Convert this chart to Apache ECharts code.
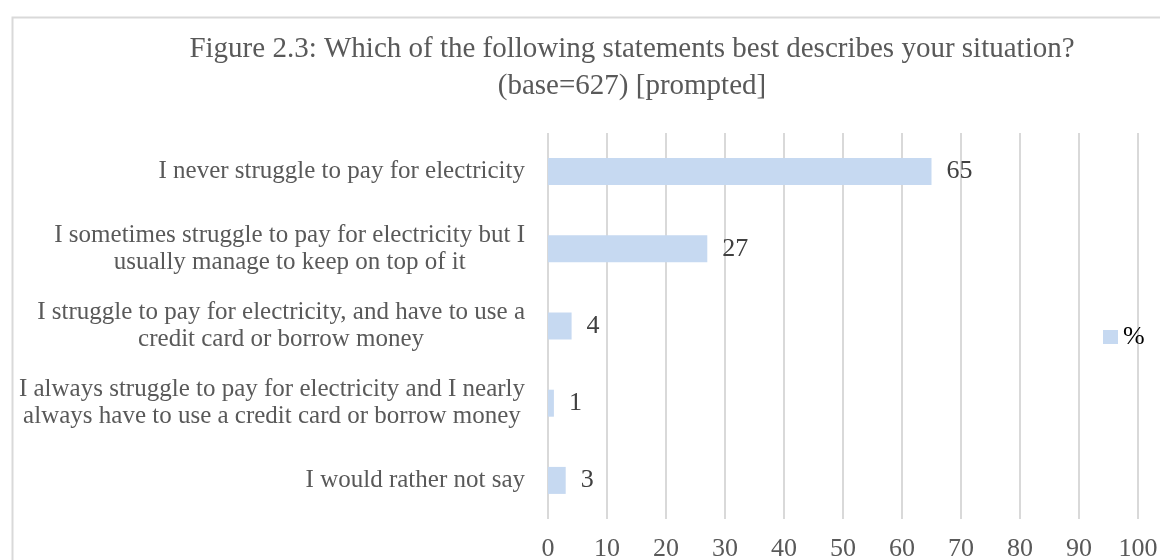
<!DOCTYPE html>
<html>
<head>
<meta charset="utf-8">
<script src="https://cdn.jsdelivr.net/npm/echarts@6/dist/echarts.min.js"></script>
<style>
  html, body { margin: 0; padding: 0; background: #ffffff; }
  #chart { width: 1160px; height: 560px; }
</style>
</head>
<body>
<div id="chart"></div>
<script>
// Survey answers (categories) and the share of respondents for each, in %
const categories = [
  'I never struggle to pay for electricity',
  'I sometimes struggle to pay for electricity but I\nusually manage to keep on top of it',
  'I struggle to pay for electricity, and have to use a\ncredit card or borrow money',
  'I always struggle to pay for electricity and I nearly\nalways have to use a credit card or borrow money',
  'I would rather not say'
];
const percentValues = [65, 27, 4, 1, 3];
const seriesName = '%';
const titleText = 'Figure 2.3: Which of the following statements best describes your situation?\n(base=627) [prompted]';

const FONT = '"Liberation Serif", "DejaVu Serif", serif';
const TEXT_GREY = '#595959';
const GRID_GREY = '#d9d9d9';
const BAR_BLUE = '#c6d9f1';

const chart = echarts.init(document.getElementById('chart'), null, { renderer: 'canvas' });

chart.setOption({
  animation: false,
  backgroundColor: '#ffffff',
  graphic: [{
    // chart-area frame
    type: 'rect',
    left: 10,
    top: 15,
    z: -10,
    shape: { width: 1200, height: 600 },
    style: { fill: 'none', stroke: GRID_GREY, lineWidth: 2 }
  }],
  title: {
    text: titleText,
    left: 627,
    top: 26,
    textAlign: 'center',
    textStyle: {
      fontFamily: FONT,
      fontSize: 29,
      fontWeight: 'normal',
      color: TEXT_GREY,
      lineHeight: 37
    }
  },
  legend: {
    data: [seriesName],
    left: 1103,
    top: 324,
    padding: 0,
    icon: 'rect',
    itemWidth: 15,
    itemHeight: 14,
    textStyle: { fontFamily: FONT, fontSize: 26, color: '#000000' }
  },
  grid: {
    left: 548, right: 22, top: 133, bottom: 41,
    containLabel: false,
    outerBoundsMode: 'none'
  },
  xAxis: {
    type: 'value',
    min: 0,
    max: 100,
    interval: 10,
    axisLine: { show: false },
    axisTick: { show: false },
    axisLabel: { fontFamily: FONT, fontSize: 26, color: TEXT_GREY, margin: 17 },
    splitLine: { show: true, lineStyle: { color: GRID_GREY, width: 2 } }
  },
  yAxis: {
    type: 'category',
    inverse: true,
    data: categories,
    axisLine: { show: false },
    axisTick: { show: false },
    axisLabel: {
      margin: 23,
      formatter: function (value) {
        return value.split('\n').map(function (line) { return '{c|' + line + '}'; }).join('\n');
      },
      rich: {
        c: { align: 'center', fontFamily: FONT, fontSize: 25, lineHeight: 27, color: TEXT_GREY }
      }
    }
  },
  series: [{
    name: seriesName,
    type: 'bar',
    data: percentValues,
    barWidth: 27,
    itemStyle: { color: BAR_BLUE },
    label: {
      show: true,
      position: 'right',
      distance: 15,
      fontFamily: FONT,
      fontSize: 26,
      color: '#404040'
    }
  }]
});
</script>
</body>
</html>
